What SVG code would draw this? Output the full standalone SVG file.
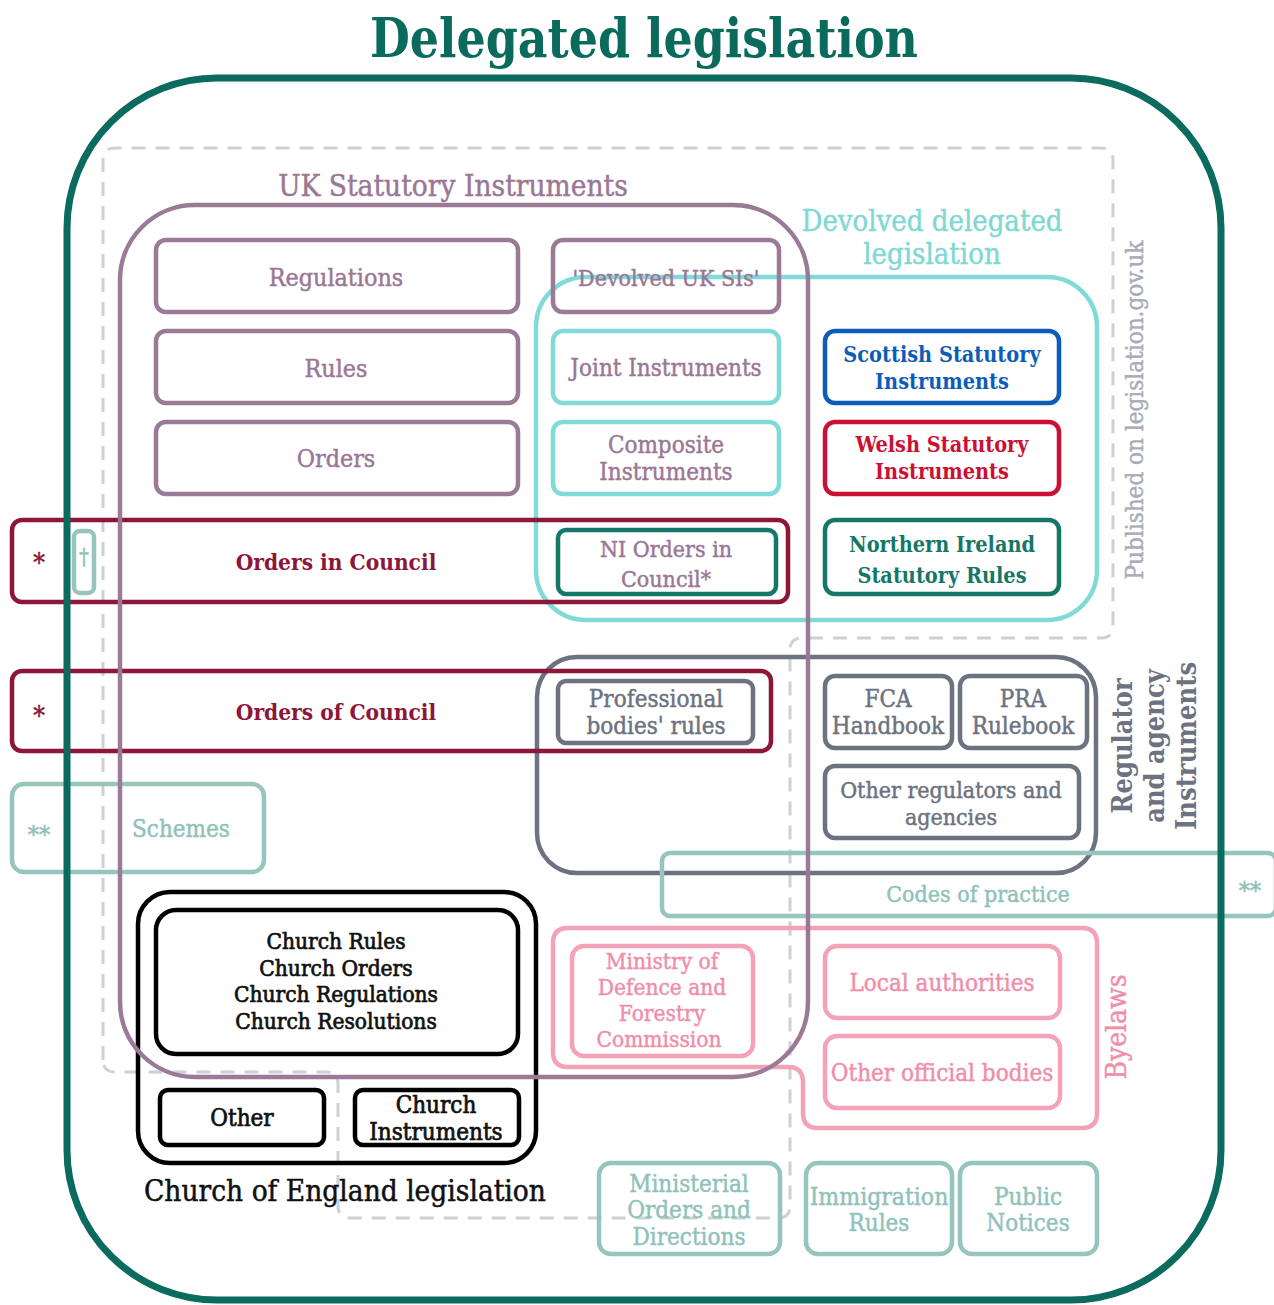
<svg xmlns="http://www.w3.org/2000/svg" width="1274" height="1305" viewBox="0 0 1274 1305">
<style>
text{font-family:"DejaVu Serif Condensed","DejaVu Serif","Liberation Serif",serif;text-anchor:middle;stroke-width:0.45}
.box{fill:none;stroke-width:4.5}
.pu{stroke:#9b7a98}.tpu{fill:#9b7795;stroke:#9b7795}
.cy{stroke:#80dbd8}.tcy{fill:#7fd8d4;stroke:#7fd8d4}
.cr{stroke:#8d1639}.tcr{fill:#8d1639;stroke:#8d1639}
.bl{stroke:#0b5db7}.tbl{fill:#0b5db7;stroke:#0b5db7}
.rd{stroke:#cc1034}.trd{fill:#cc1034;stroke:#cc1034}
.dt{stroke:#157767}.tdt{fill:#157767;stroke:#157767}
.gr{stroke:#6c7280}.tgr{fill:#6c7280;stroke:#6c7280}
.lt{stroke:#96c5be}.tlt{fill:#8fc2ba;stroke:#8fc2ba}
.pk{stroke:#f4a2b7}.tpk{fill:#f08eaa;stroke:#f08eaa}
.bk{stroke:#000}.tbk{fill:#111;stroke:#111;stroke-width:0.7}
.f21{font-size:21.5px}.f23{font-size:23px}.f24{font-size:24px}.f25{font-size:24.8px}.b{font-weight:bold;stroke-width:0}
</style>
<text x="644" y="57" textLength="548" lengthAdjust="spacingAndGlyphs" style="font-size:55px;font-weight:bold;fill:#0a6a5c">Delegated legislation</text>

<g id="published">
<path d="M103 1060 V160 Q103 148 115 148 H1101 Q1113 148 1113 160 V626 Q1113 638 1101 638 H802 Q790 638 790 650 V1206 Q790 1218 778 1218 H350 Q338 1218 338 1206 V1084 Q338 1072 326 1072 H115 Q103 1072 103 1060 Z" fill="none" stroke="#cdd0d7" stroke-width="3" stroke-dasharray="14 10"/>
<text transform="translate(1143 410) rotate(-90)" style="font-size:24px;fill:#a9abb8;stroke:#a9abb8">Published on legislation.gov.uk</text>
</g>

<g id="devolved">
<rect x="536" y="277" width="561" height="343" rx="50" class="box cy" stroke-width="5"/>
<text x="932" y="231" class="tcy" style="font-size:29px">Devolved delegated</text>
<text x="932" y="264" class="tcy" style="font-size:29px">legislation</text>
</g>

<g id="regulator">
<rect x="537" y="657" width="559" height="216" rx="40" class="box gr" stroke-width="5"/>
<text transform="translate(1132 746) rotate(-90)" class="tgr b" style="font-size:27px">Regulator</text>
<text transform="translate(1164 746) rotate(-90)" class="tgr b" style="font-size:27px">and agency</text>
<text transform="translate(1196 746) rotate(-90)" class="tgr b" style="font-size:27px">Instruments</text>
</g>

<g id="byelaws">
<path d="M568 928 H1082 Q1097 928 1097 943 V1113 Q1097 1128 1082 1128 H818 Q803 1128 803 1113 V1082 Q803 1067 788 1067 H568 Q553 1067 553 1052 V943 Q553 928 568 928 Z" class="box pk" stroke-width="5"/>
<text transform="translate(1126 1027) rotate(-90)" class="tpk" style="font-size:28px">Byelaws</text>
</g>

<g id="orders-in-council">
<rect x="12" y="520" width="776" height="82" rx="10" class="box cr" stroke-width="5"/>
<text x="39" y="572" class="tcr" style="font-size:26px">*</text>
<rect x="74" y="531" width="20" height="62" rx="6" class="box lt" stroke-width="4"/>
<text x="84" y="564" class="tlt" style="font-size:22px">†</text>
<text x="336" y="570" class="tcr b" style="font-size:22.5px">Orders in Council</text>
</g>

<g id="orders-of-council">
<rect x="12" y="671" width="759" height="80" rx="10" class="box cr" stroke-width="5"/>
<text x="39" y="725" class="tcr" style="font-size:26px">*</text>
<text x="336" y="720" class="tcr b" style="font-size:22.5px">Orders of Council</text>
</g>

<g id="schemes">
<rect x="12" y="784" width="252" height="88" rx="12" class="box lt" stroke-width="4"/>
<text x="39" y="843" class="tlt" style="font-size:25px">**</text>
<text x="181" y="837" class="tlt f24">Schemes</text>
</g>

<g id="codes">
<rect x="662" y="853" width="614" height="63" rx="8" class="box lt" stroke-width="4"/>
<text x="978" y="902" class="tlt f23">Codes of practice</text>
<text x="1250" y="899" class="tlt" style="font-size:25px">**</text>
</g>

<g id="regulations"><rect x="156" y="240" width="362" height="72" rx="10" class="box pu"/><text x="336" y="286" class="tpu f25">Regulations</text></g>
<g id="rules"><rect x="156" y="331" width="362" height="72" rx="10" class="box pu"/><text x="336" y="377" class="tpu f25">Rules</text></g>
<g id="orders"><rect x="156" y="422" width="362" height="72" rx="10" class="box pu"/><text x="336" y="467" class="tpu f25">Orders</text></g>
<g id="devolved-uk-sis"><rect x="553" y="240" width="226" height="72" rx="10" class="box pu"/></g>
<g id="joint"><rect x="553" y="331" width="226" height="72" rx="10" class="box cy"/><text x="666" y="376" class="tpu f24">Joint Instruments</text></g>
<g id="composite"><rect x="553" y="422" width="226" height="72" rx="10" class="box cy"/><text x="666" y="453" class="tpu f24">Composite</text><text x="666" y="480" class="tpu f24">Instruments</text></g>
<g id="ni-orders"><rect x="558" y="530" width="218" height="64" rx="8" class="box dt"/><text x="666" y="557" class="tpu f23">NI Orders in</text><text x="666" y="587" class="tpu f23">Council*</text></g>
<g id="scottish"><rect x="825" y="331" width="234" height="72" rx="10" class="box bl"/><text x="942" y="362" class="tbl f21 b">Scottish Statutory</text><text x="942" y="389" class="tbl f21 b">Instruments</text></g>
<g id="welsh"><rect x="825" y="422" width="234" height="72" rx="10" class="box rd"/><text x="942" y="452" class="trd f21 b">Welsh Statutory</text><text x="942" y="479" class="trd f21 b">Instruments</text></g>
<g id="ni-rules"><rect x="825" y="520" width="234" height="74" rx="10" class="box dt"/><text x="942" y="552" class="tdt f21 b">Northern Ireland</text><text x="942" y="583" class="tdt f21 b">Statutory Rules</text></g>

<g id="professional"><rect x="558" y="681" width="195" height="62" rx="8" class="box gr"/><text x="656" y="707" class="tgr f24">Professional</text><text x="656" y="734" class="tgr f24">bodies' rules</text></g>
<g id="fca"><rect x="825" y="676" width="127" height="72" rx="10" class="box gr"/><text x="888" y="707" class="tgr f24">FCA</text><text x="888" y="734" class="tgr f24">Handbook</text></g>
<g id="pra"><rect x="960" y="676" width="127" height="72" rx="10" class="box gr"/><text x="1023" y="707" class="tgr f24">PRA</text><text x="1023" y="734" class="tgr f24">Rulebook</text></g>
<g id="other-regulators"><rect x="825" y="766" width="254" height="72" rx="10" class="box gr"/><text x="951" y="798" class="tgr f23">Other regulators and</text><text x="951" y="825" class="tgr f23">agencies</text></g>

<g id="mod"><rect x="572" y="946" width="181" height="110" rx="12" class="box pk"/><text x="662" y="969" class="tpk" style="font-size:22.5px">Ministry of</text><text x="662" y="995" class="tpk" style="font-size:22.5px">Defence and</text><text x="662" y="1021" class="tpk" style="font-size:22.5px">Forestry</text><text x="659" y="1047" class="tpk" style="font-size:22.5px">Commission</text></g>
<g id="local"><rect x="825" y="946" width="235" height="72" rx="12" class="box pk"/><text x="942" y="991" class="tpk f24">Local authorities</text></g>
<g id="other-official"><rect x="825" y="1036" width="235" height="72" rx="12" class="box pk"/><text x="942" y="1081" class="tpk f24">Other official bodies</text></g>

<g id="church">
<rect x="138" y="892" width="398" height="271" rx="32" class="box bk" stroke-width="6"/>
<rect x="156" y="910" width="362" height="144" rx="20" class="box bk" stroke-width="5"/>
<text x="336" y="949" class="tbk" style="font-size:22.5px">Church Rules</text>
<text x="336" y="975.5" class="tbk" style="font-size:22.5px">Church Orders</text>
<text x="336" y="1002" class="tbk" style="font-size:22.5px">Church Regulations</text>
<text x="336" y="1028.5" class="tbk" style="font-size:22.5px">Church Resolutions</text>
<text x="345" y="1201" class="tbk" style="font-size:29.5px;stroke-width:0.5">Church of England legislation</text>
</g>
<g id="church-other"><rect x="160" y="1090" width="164" height="55" rx="8" class="box bk" stroke-width="5"/><text x="242" y="1126" class="tbk" style="font-size:24px">Other</text></g>
<g id="church-instruments"><rect x="355" y="1090" width="164" height="55" rx="8" class="box bk" stroke-width="5"/><text x="436" y="1113" class="tbk" style="font-size:24px">Church</text><text x="436" y="1140" class="tbk" style="font-size:24px">Instruments</text></g>

<g id="ministerial"><rect x="599" y="1163" width="181" height="91" rx="12" class="box lt"/><text x="689" y="1192" class="tlt f24">Ministerial</text><text x="689" y="1218" class="tlt f24">Orders and</text><text x="689" y="1245" class="tlt f24">Directions</text></g>
<g id="immigration"><rect x="806" y="1163" width="146" height="91" rx="12" class="box lt"/><text x="879" y="1205" class="tlt" style="font-size:24.5px">Immigration</text><text x="879" y="1231" class="tlt f24">Rules</text></g>
<g id="public-notices"><rect x="960" y="1163" width="137" height="91" rx="12" class="box lt"/><text x="1028" y="1205" class="tlt f24">Public</text><text x="1028" y="1231" class="tlt f24">Notices</text></g>

<g id="uk-si">
<rect x="120" y="205" width="688" height="872" rx="75" class="box pu" stroke-width="5"/>
<text x="453" y="196" class="tpu" style="font-size:29.5px">UK Statutory Instruments</text>
<text x="666" y="286" class="tpu f23">'Devolved UK SIs'</text>
</g>

<g id="delegated">
<rect x="67" y="78" width="1154" height="1222" rx="150" fill="none" stroke="#0b6b5e" stroke-width="7"/>
</g>
</svg>
